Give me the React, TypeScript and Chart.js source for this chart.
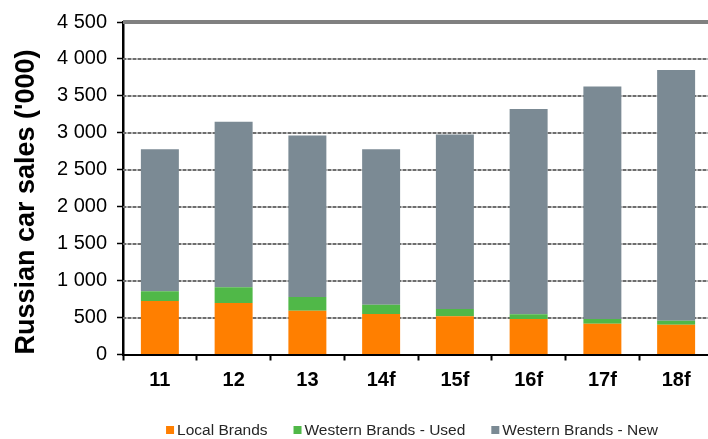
import React, { useEffect, useRef } from 'react';
import { Chart, registerables } from 'chart.js';

Chart.register(...registerables);

// Russian car sales by segment, thousands of units
const years = ['11', '12', '13', '14f', '15f', '16f', '17f', '18f'];
const localBrands = [725, 698, 592, 548, 518, 482, 416, 403];
const westernUsed = [130, 212, 186, 124, 97, 62, 66, 53];
const westernNew = [1922, 2239, 2185, 2105, 2361, 2777, 3144, 3396];

const seriesNames = ['Local Brands', 'Western Brands - Used', 'Western Brands - New'];
const seriesColors = ['#FF7F00', '#50B848', '#7B8A94'];

const yMax = 4500;
const yStep = 500;
const yTitle = "Russian car sales ('000)";

const FONT = '"Liberation Sans", Arial, Helvetica, sans-serif';

const formatThousands = (v: number) =>
  String(v).replace(/\B(?=(\d{3})+(?!\d))/g, ' ');

// Horizontal gridlines: dotted grey for inner ticks, solid heavier line on top
const gridPlugin = {
  id: 'gridLines',
  beforeDatasetsDraw(chart: any) {
    const { ctx, chartArea } = chart;
    const y = chart.scales.y;
    ctx.save();
    y.ticks.forEach((t: any) => {
      if (t.value === 0) return;
      const py = Math.round(y.getPixelForValue(t.value));
      if (t.value === yMax) {
        ctx.strokeStyle = '#808080';
        ctx.lineWidth = 4;
        ctx.setLineDash([]);
        ctx.beginPath();
        ctx.moveTo(chartArea.left, py);
        ctx.lineTo(chartArea.right, py);
        ctx.stroke();
        return;
      }
      ctx.lineWidth = 2;
      ctx.strokeStyle = '#b8b8b8';
      ctx.setLineDash([]);
      ctx.beginPath();
      ctx.moveTo(chartArea.left, py);
      ctx.lineTo(chartArea.right, py);
      ctx.stroke();
      ctx.strokeStyle = '#6e6e6e';
      ctx.setLineDash([3, 2]);
      ctx.beginPath();
      ctx.moveTo(chartArea.left, py);
      ctx.lineTo(chartArea.right, py);
      ctx.stroke();
    });
    ctx.restore();
  },
};

// Rotated y-axis title and a compact legend row under the axis
const annotationsPlugin = {
  id: 'annotations',
  afterDraw(chart: any) {
    const { ctx } = chart;
    ctx.save();
    ctx.translate(27, 202);
    ctx.rotate(-Math.PI / 2);
    ctx.font = `bold 27px ${FONT}`;
    ctx.fillStyle = '#000';
    ctx.textAlign = 'center';
    ctx.textBaseline = 'middle';
    ctx.fillText(yTitle, 0, 0);
    ctx.restore();

    ctx.save();
    ctx.font = `15.5px ${FONT}`;
    ctx.textBaseline = 'middle';
    ctx.textAlign = 'left';
    const box = 8;
    const gapText = 3;
    const gapItem = 26;
    const items = chart.data.datasets.map((d: any) => ({
      label: d.label,
      color: d.backgroundColor,
      w: ctx.measureText(d.label).width,
    }));
    const total =
      items.reduce((s: number, it: any) => s + box + gapText + it.w, 0) +
      gapItem * (items.length - 1);
    let x = 412 - total / 2;
    const cy = 430;
    items.forEach((it: any) => {
      ctx.fillStyle = it.color;
      ctx.fillRect(x, cy - box / 2, box, box);
      x += box + gapText;
      ctx.fillStyle = '#262626';
      ctx.fillText(it.label, x, cy + 1);
      x += it.w + gapItem;
    });
    ctx.restore();
  },
};

export default function App() {
  const canvasRef = useRef<HTMLCanvasElement | null>(null);

  useEffect(() => {
    if (!canvasRef.current) return;
    const data = [localBrands, westernUsed, westernNew];
    const chart = new Chart(canvasRef.current, {
      type: 'bar',
      data: {
        labels: years,
        datasets: seriesNames.map((name, i) => ({
          label: name,
          data: data[i],
          backgroundColor: seriesColors[i],
          borderWidth: 0,
          categoryPercentage: 1,
          barPercentage: 0.515,
        })),
      },
      options: {
        responsive: false,
        maintainAspectRatio: false,
        animation: false,
        layout: { padding: { top: 15, right: 1, bottom: 0, left: 0 } },
        plugins: {
          legend: { display: false },
          tooltip: { enabled: false },
          title: { display: false },
        },
        scales: {
          x: {
            stacked: true,
            grid: {
              display: true,
              drawOnChartArea: false,
              offset: true,
              tickLength: 6,
              tickColor: '#000',
              tickWidth: 2,
            },
            border: { display: true, color: '#000', width: 2 },
            ticks: {
              color: '#000',
              font: { family: FONT, size: 20, weight: 'bold' },
              padding: 8,
              maxRotation: 0,
            },
            afterFit: (s: any) => {
              s.height = 84.5;
            },
          },
          y: {
            stacked: true,
            min: 0,
            max: yMax,
            grid: {
              display: true,
              drawOnChartArea: false,
              tickLength: 6,
              tickColor: '#000',
              tickWidth: 1.5,
            },
            border: { display: true, color: '#000', width: 2.5 },
            ticks: {
              stepSize: yStep,
              color: '#000',
              font: { family: FONT, size: 20 },
              padding: 10,
              callback: (v: any) => formatThousands(Number(v)),
            },
            afterFit: (s: any) => {
              s.width = 123;
            },
          },
        },
      },
      plugins: [gridPlugin, annotationsPlugin],
    });
    return () => chart.destroy();
  }, []);

  return (
    <div
      style={{
        position: 'absolute',
        left: 0,
        top: 0,
        width: 708,
        height: 439,
        overflow: 'hidden',
        background: '#fff',
      }}
    >
      <canvas ref={canvasRef} width={714} height={439} style={{ display: 'block' }} />
    </div>
  );
}
